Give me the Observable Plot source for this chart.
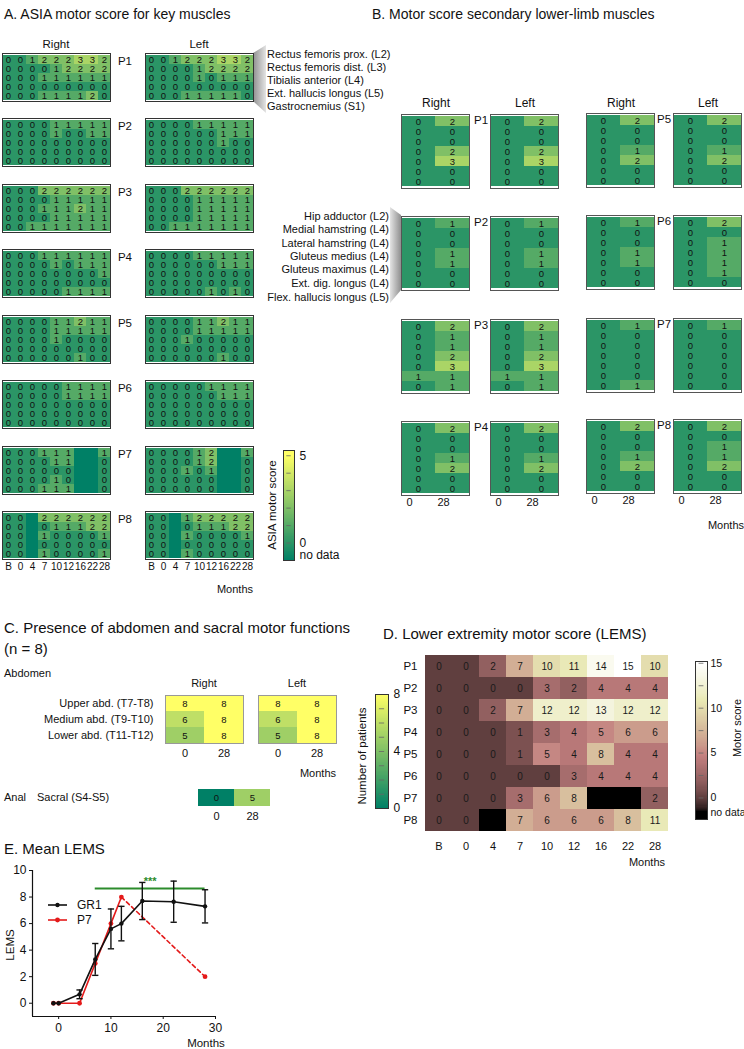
<!DOCTYPE html>
<html><head><meta charset="utf-8">
<script src="https://cdn.jsdelivr.net/npm/d3@7"></script>
<script src="https://cdn.jsdelivr.net/npm/@observablehq/plot@0.6"></script>
<style>
body{margin:0;background:#fff;}
#root{position:relative;width:744px;height:1049px;overflow:hidden;background:#fff;}
</style></head><body><div id="root"></div>
<script>
const _ = null;
// ---------- DATA ----------
const months = ["B","0","4","7","10","12","16","22","28"];
const patients = ["P1","P2","P3","P4","P5","P6","P7","P8"];
const keyMuscles = ["Rectus femoris prox. (L2)","Rectus femoris dist. (L3)","Tibialis anterior (L4)","Ext. hallucis longus (L5)","Gastrocnemius (S1)"];
const asiaRight = [
 [[0,0,1,2,2,2,3,3,2],[0,0,0,0,1,2,2,2,2],[0,0,0,1,1,1,1,1,1],[0,0,0,0,0,0,0,0,0],[0,0,0,1,1,1,1,2,0]],
 [[0,0,0,0,1,1,1,1,1],[0,0,0,0,1,0,0,1,1],[0,0,0,0,0,0,0,0,0],[0,0,0,0,0,0,0,0,0],[0,0,0,0,0,0,0,0,0]],
 [[0,0,0,2,2,2,2,2,2],[0,0,0,0,1,1,1,1,1],[0,0,0,1,1,1,2,1,1],[0,0,0,0,1,1,1,1,1],[0,0,1,1,1,1,1,1,1]],
 [[0,0,0,1,1,1,1,1,1],[0,0,0,0,1,0,1,1,1],[0,0,0,0,0,0,0,0,1],[0,0,0,0,0,0,0,0,0],[0,0,0,0,0,1,1,1,1]],
 [[0,0,0,0,1,1,2,1,1],[0,0,0,0,1,1,1,1,1],[0,0,0,0,1,0,0,0,0],[0,0,0,0,0,0,0,0,0],[0,0,0,0,0,0,1,0,0]],
 [[0,0,0,0,0,1,1,1,1],[0,0,0,0,0,1,1,1,1],[0,0,0,0,0,0,0,0,0],[0,0,0,0,0,0,0,0,0],[0,0,0,0,0,0,0,0,0]],
 [[0,0,0,1,1,1,_,_,1],[0,0,0,0,1,1,_,_,0],[0,0,0,0,0,0,_,_,0],[0,0,0,0,1,0,_,_,0],[0,0,0,1,1,1,_,_,0]],
 [[0,0,_,2,2,2,2,2,2],[0,0,_,0,1,1,1,2,2],[0,0,_,1,0,0,0,0,1],[0,0,_,0,0,0,0,0,0],[0,0,_,1,0,0,0,0,1]]
];
const asiaLeft = [
 [[0,0,1,2,2,2,3,3,2],[0,0,0,0,1,2,2,2,2],[0,0,0,0,1,0,1,1,1],[0,0,0,0,0,0,0,0,0],[0,0,0,1,1,1,1,1,0]],
 [[0,0,0,0,1,1,1,1,1],[0,0,0,0,0,0,1,1,1],[0,0,0,0,0,0,1,0,0],[0,0,0,0,0,0,0,0,0],[0,0,0,0,0,0,0,0,0]],
 [[0,0,0,2,2,2,2,2,2],[0,0,0,0,1,1,1,1,1],[0,0,0,0,1,1,1,1,1],[0,0,0,0,1,1,1,1,1],[0,0,1,1,1,1,1,1,1]],
 [[0,0,0,0,1,1,1,1,1],[0,0,0,0,0,0,1,1,1],[0,0,0,0,0,0,0,0,0],[0,0,0,0,0,0,0,0,0],[0,0,0,0,0,1,0,1,0]],
 [[0,0,0,0,1,1,2,1,1],[0,0,0,0,1,1,1,1,1],[0,0,0,1,0,0,0,0,0],[0,0,0,0,0,0,0,0,0],[0,0,0,0,0,0,1,0,0]],
 [[0,0,0,0,0,1,1,1,1],[0,0,0,0,0,0,1,1,1],[0,0,0,0,0,0,0,0,0],[0,0,0,0,0,0,0,0,0],[0,0,0,0,0,0,0,0,0]],
 [[0,0,0,0,1,2,_,_,1],[0,0,0,0,1,2,_,_,0],[0,0,0,1,0,1,_,_,0],[0,0,0,0,0,0,_,_,0],[0,0,0,0,0,0,_,_,0]],
 [[0,0,_,1,2,2,2,2,2],[0,0,_,0,1,1,1,2,2],[0,0,_,1,0,0,0,0,1],[0,0,_,0,0,0,0,0,0],[0,0,_,1,0,0,0,0,0]]
];
const secMonths = ["0","28"];
const secMuscles = ["Hip adductor (L2)","Medial hamstring (L4)","Lateral hamstring (L4)","Gluteus medius (L4)","Gluteus maximus (L4)","Ext. dig. longus (L4)","Flex. hallucis longus (L5)"];
const secRight = [
 [[0,2],[0,0],[0,0],[0,2],[0,3],[0,0],[0,0]],
 [[0,1],[0,0],[0,0],[0,1],[0,1],[0,0],[0,0]],
 [[0,2],[0,1],[0,1],[0,2],[0,3],[1,1],[0,1]],
 [[0,2],[0,0],[0,0],[0,1],[0,2],[0,0],[0,0]],
 [[0,2],[0,0],[0,0],[0,1],[0,2],[0,0],[0,0]],
 [[0,1],[0,0],[0,0],[0,1],[0,1],[0,0],[0,0]],
 [[0,1],[0,0],[0,0],[0,0],[0,0],[0,0],[0,1]],
 [[0,2],[0,0],[0,0],[0,1],[0,2],[0,0],[0,0]]
];
const secLeft = [
 [[0,2],[0,0],[0,0],[0,2],[0,3],[0,0],[0,0]],
 [[0,1],[0,0],[0,0],[0,1],[0,1],[0,0],[0,0]],
 [[0,2],[0,1],[0,1],[0,2],[0,3],[1,1],[0,1]],
 [[0,2],[0,0],[0,0],[0,1],[0,2],[0,0],[0,0]],
 [[0,2],[0,0],[0,0],[0,1],[0,2],[0,0],[0,0]],
 [[0,2],[0,0],[0,1],[0,1],[0,1],[0,1],[0,0]],
 [[0,1],[0,0],[0,0],[0,0],[0,0],[0,0],[0,0]],
 [[0,2],[0,0],[0,1],[0,1],[0,2],[0,0],[0,0]]
];
const abdLevels = ["Upper abd. (T7-T8)","Medium abd. (T9-T10)","Lower abd. (T11-T12)"];
const abdRight = [[8,8],[6,8],[5,8]];
const abdLeft = [[8,8],[6,8],[5,8]];
const sacralLevels = ["Sacral (S4-S5)"];
const sacral = [[0,5]];
const lems = [
 [0,0,2,7,10,11,14,15,10],
 [0,0,0,0,3,2,4,4,4],
 [0,0,2,7,12,12,13,12,12],
 [0,0,0,1,3,4,5,6,6],
 [0,0,0,1,5,4,8,4,4],
 [0,0,0,0,0,3,4,4,4],
 [0,0,0,3,6,8,_,_,2],
 [0,0,_,7,6,6,6,8,11]
];
const gr1Months = [-1,0,4,7,10,12,16,22,28];
const gr1Mean = [0,0,0.67,3.3,5.6,6.0,7.7,7.65,7.3];
const gr1Err = [0,0,0.33,1.2,1.5,1.3,1.4,1.55,1.25];
const p7Months = [-1,0,4,7,10,12,28];
const p7Lems = [0,0,0,3,6,8,2];
const sigFrom = 7, sigTo = 28, sigLevel = 8.65, sigX = 17.5, sigTextY = 9.15, sigLabel = "***";

// ---------- HELPERS ----------
const FONT = '"Liberation Sans", Arial, Helvetica, sans-serif';
const root = document.getElementById("root");
const ov = d3.select(root).append("svg").attr("width",744).attr("height",1049)
  .style("position","absolute").style("left","0px").style("top","0px").style("font-family",FONT);
function T(text, x, y, o = {}) {
  const {size = 11, anchor = "start", rotate = 0, fill = "#111"} = o;
  const t = ov.append("text").attr("x", x).attr("y", y).attr("text-anchor", anchor)
    .attr("dominant-baseline", "central").attr("font-size", size).attr("fill", fill).text(text);
  if (rotate) t.attr("transform", `rotate(${rotate},${x},${y})`);
}
function mount(p, L, Tp, ml, mt) {
  p.style.position = "absolute"; p.style.left = (L - ml) + "px"; p.style.top = (Tp - mt) + "px";
  root.appendChild(p);
}
const baseStyle = {background: "transparent", overflow: "visible", fontFamily: FONT, fontSize: "11px", color: "#111"};

function pinkRGB(t) {
  t = Math.max(0, Math.min(1, t));
  const hr = Math.min(1, t / 0.375), hg = Math.max(0, Math.min(1, (t - 0.375) / 0.375)), hb = Math.max(0, (t - 0.75) / 0.25);
  const f = h => Math.round(255 * Math.sqrt((2 * t + h) / 3));
  return d3.rgb(f(hr), f(hg), f(hb)).formatHex();
}
const summerA = {type: "linear", domain: [-1, 5], range: ["#008066", "#ffff66"], interpolate: "rgb"};
const summerC = {type: "linear", domain: [0, 8], range: ["#008066", "#ffff66"], interpolate: "rgb"};
const pinkD = {type: "linear", domain: [-1.5, 15], interpolate: pinkRGB};

function heat({L, T: Tp, W, H, xs, ys, rows, color, nodata, fs, textFill = "#111", ticks = false, tickDx = 0, tickDy = 10, tickFs = 10, frame = "#333", yAxis = false, yFs = 11, yDx = -8}) {
  const data = [];
  rows.forEach((r, i) => r.forEach((v, j) => data.push({x: xs[j], y: ys[i], v})));
  const ml = yAxis ? 130 : 1, mr = 1, mt = 1, mb = ticks ? 26 : 1;
  const marks = [
    Plot.cell(data, {x: "x", y: "y", fill: d => d.v ?? nodata, inset: 0, shapeRendering: "crispEdges"}),
    Plot.text(data.filter(d => d.v != null), {x: "x", y: "y", text: d => String(d.v), fontSize: fs, fill: textFill})
  ];
  if (frame) marks.push(Plot.frame({stroke: frame, strokeWidth: 1}));
  if (ticks) marks.push(Plot.text(xs, {x: d => d, text: d => d, frameAnchor: "bottom", dy: tickDy, dx: tickDx, fontSize: tickFs, fill: "#111"}));
  if (yAxis) marks.push(Plot.text(ys, {y: d => d, text: d => d, frameAnchor: "left", textAnchor: "end", dx: yDx, fontSize: yFs, fill: "#111"}));
  const p = Plot.plot({
    width: W + ml + mr, height: H + mt + mb, marginLeft: ml, marginRight: mr, marginTop: mt, marginBottom: mb,
    style: baseStyle,
    x: {type: "band", domain: xs, padding: 0, axis: null},
    y: {type: "band", domain: ys, padding: 0, axis: null},
    color, marks
  });
  mount(p, L, Tp, ml, mt);
}

function colorbar({L, T: Tp, W, H, domain, color, minor, labels, fs = 12, dx = 5}) {
  const n = 140, [a, b] = domain, step = (b - a) / n;
  const steps = d3.range(n).map(i => a + i * step);
  const ml = 1, mr = 50, mt = 1, mb = 1;
  const p = Plot.plot({
    width: W + ml + mr, height: H + mt + mb, marginLeft: ml, marginRight: mr, marginTop: mt, marginBottom: mb,
    style: baseStyle,
    x: {domain: [0, 1], axis: null}, y: {domain, axis: null}, color,
    marks: [
      Plot.rect(steps, {x1: 0, x2: 1, y1: d => d, y2: d => d + step * 1.05, fill: d => d + step / 2, shapeRendering: "crispEdges"}),
      Plot.ruleY(minor, {x1: 0.3, x2: 0.7, stroke: "#666", strokeWidth: 0.8}),
      Plot.frame({stroke: "#333"}),
      Plot.text(labels, {x: 1, y: "v", text: "t", dx, textAnchor: "start", fontSize: fs, fill: "#111"})
    ]
  });
  mount(p, L, Tp, ml, mt);
}

// ---------- decorations (callout wedges) ----------
const defs = ov.append("defs");
const g1 = defs.append("linearGradient").attr("id", "wA").attr("x1", "0").attr("x2", "1");
g1.append("stop").attr("offset", "0").attr("stop-color", "#8f8f8f");
g1.append("stop").attr("offset", "1").attr("stop-color", "#e4e4e4");
const g2 = defs.append("linearGradient").attr("id", "wB").attr("x1", "0").attr("x2", "1");
g2.append("stop").attr("offset", "0").attr("stop-color", "#e4e4e4");
g2.append("stop").attr("offset", "1").attr("stop-color", "#8f8f8f");
ov.append("polygon").attr("points", "253,53 266,45 266,113 253,101").attr("fill", "url(#wA)");
ov.append("polygon").attr("points", "390,207 401,215 401,290 390,303").attr("fill", "url(#wB)");

// ---------- PANEL A ----------
T("A. ASIA motor score for key muscles", 4, 14, {size: 14});
T("Right", 56, 44, {anchor: "middle", size: 11.5});
T("Left", 199, 44, {anchor: "middle", size: 11.5});
const topsA = [53, 118, 184, 249, 315, 380, 446, 511];
patients.forEach((p, i) => {
  const last = i === patients.length - 1;
  heat({L: 2, T: topsA[i], W: 108, H: 48, xs: months, ys: keyMuscles, rows: asiaRight[i], color: summerA, nodata: -1, fs: 9.5, ticks: last, tickDy: 10, tickFs: 10});
  heat({L: 145, T: topsA[i], W: 108, H: 48, xs: months, ys: keyMuscles, rows: asiaLeft[i], color: summerA, nodata: -1, fs: 9.5, ticks: last, tickDy: 10, tickFs: 10});
  T(p, 125, topsA[i] + 8, {anchor: "middle", size: 11.5});
});
[54, 67, 80, 93, 106].forEach((y, i) => T(keyMuscles[i], 267, y, {size: 11}));
T("Months", 235, 589, {anchor: "middle", size: 11});
colorbar({L: 283, T: 450, W: 11, H: 110, domain: [-1, 5.3], color: summerA, minor: [0, 1, 2, 3, 4, 5],
  labels: [{v: 5, t: "5"}, {v: 0, t: "0"}, {v: -0.72, t: "no data"}], fs: 12});
T("ASIA motor score", 272, 505, {anchor: "middle", rotate: -90, size: 11.5});

// ---------- PANEL B ----------
T("B.  Motor score secondary lower-limb muscles", 372, 14, {size: 14});
const colB = [{R: 401, Lf: 490, tops: [114, 216, 319, 421], pl: 474}, {R: 586, Lf: 673, tops: [113, 215, 318, 419], pl: 657}];
colB.forEach((c, ci) => {
  T("Right", c.R + 35, 103, {anchor: "middle", size: 12});
  T("Left", c.Lf + 35, 103, {anchor: "middle", size: 12});
  for (let k = 0; k < 4; k++) {
    const pi = ci * 4 + k, last = k === 3;
    heat({L: c.R, T: c.tops[k], W: 68, H: 74, xs: secMonths, ys: secMuscles, rows: secRight[pi], color: summerA, nodata: -1, fs: 9.5, frame: "#555", ticks: last, tickDx: -9, tickDy: 10, tickFs: 11});
    heat({L: c.Lf, T: c.tops[k], W: 68, H: 74, xs: secMonths, ys: secMuscles, rows: secLeft[pi], color: summerA, nodata: -1, fs: 9.5, frame: "#555", ticks: last, tickDx: -9, tickDy: 10, tickFs: 11});
    T(patients[pi], c.pl, c.tops[k] + 6, {size: 11.5});
  }
});
[216, 229, 243, 256, 269, 283, 297].forEach((y, i) => T(secMuscles[i], 389, y, {anchor: "end", size: 11}));
T("Months", 726, 525, {anchor: "middle", size: 11});

// ---------- PANEL C ----------
T("C. Presence of abdomen and sacral motor functions", 4, 627, {size: 15});
T("(n = 8)", 4, 648, {size: 15});
T("Abdomen", 4, 673, {size: 11});
T("Right", 204, 683, {anchor: "middle", size: 11});
T("Left", 297, 683, {anchor: "middle", size: 11});
heat({L: 165, T: 695, W: 78, H: 48, xs: secMonths, ys: abdLevels, rows: abdRight, color: summerC, nodata: 0, fs: 9.5, frame: "#999", ticks: true, tickDy: 13, tickFs: 11, yAxis: true, yDx: -12, yFs: 11});
heat({L: 258, T: 695, W: 78, H: 48, xs: secMonths, ys: abdLevels, rows: abdLeft, color: summerC, nodata: 0, fs: 9.5, frame: "#999", ticks: true, tickDy: 13, tickFs: 11});
T("Months", 318, 773, {anchor: "middle", size: 11});
T("Anal", 4, 797, {size: 11});
T(sacralLevels[0], 37, 797, {size: 11});
heat({L: 197, T: 789, W: 73, H: 17, xs: secMonths, ys: sacralLevels, rows: sacral, color: summerC, nodata: 0, fs: 9.5, frame: null, ticks: true, tickDy: 13, tickFs: 11});
colorbar({L: 375, T: 694, W: 13, H: 114, domain: [0, 8], color: summerC, minor: [1, 2, 3, 4, 5, 6, 7],
  labels: [{v: 8, t: "8"}, {v: 4, t: "4"}, {v: 0, t: "0"}], fs: 12});
T("Number of patients", 362, 756, {anchor: "middle", rotate: -90, size: 11.5});

// ---------- PANEL D ----------
T("D.  Lower extremity motor score  (LEMS)", 383, 633, {size: 15});
heat({L: 425, T: 653, W: 243, H: 180, xs: months, ys: patients, rows: lems, color: pinkD, nodata: -1.5, fs: 10, textFill: "#1a1a1a", frame: null, ticks: true, tickDy: 16, tickFs: 11, yAxis: true, yDx: -8, yFs: 11.5});
T("Months", 647, 862, {anchor: "middle", size: 11});
colorbar({L: 695, T: 661, W: 12, H: 158, domain: [-2.4, 15.2], color: pinkD, minor: [0, 2.5, 5, 7.5, 10, 12.5, 15],
  labels: [{v: 15, t: "15"}, {v: 10, t: "10"}, {v: 5, t: "5"}, {v: 0, t: "0"}, {v: -1.6, t: "no data"}], fs: 10.5, dx: 3});
T("Motor score", 737, 728, {anchor: "middle", rotate: -90, size: 11});

// ---------- PANEL E ----------
T("E. Mean LEMS", 4, 848, {size: 15});
const gr1 = gr1Months.map((m, i) => ({m, mean: gr1Mean[i], err: gr1Err[i]}));
const gr1E = gr1.filter(d => d.err > 0);
const p7 = p7Months.map((m, i) => ({m, v: p7Lems[i]}));
const p7Solid = p7.slice(0, 6), p7Dash = p7.slice(5);
{
  const ml = 30, mr = 12, mt = 4, mb = 24, W = 183, H = 146;
  const capW = 0.6;
  const p = Plot.plot({
    width: W + ml + mr, height: H + mt + mb, marginLeft: ml, marginRight: mr, marginTop: mt, marginBottom: mb,
    style: {...baseStyle, fontSize: "12px"},
    x: {domain: [-5, 30], ticks: [0, 10, 20, 30], tickSize: 3, tickPadding: 4, label: null},
    y: {domain: [-1, 10], ticks: [0, 2, 4, 6, 8, 10], tickSize: 3, tickPadding: 3, label: null},
    marks: [
      Plot.ruleX([-5], {stroke: "#111", strokeWidth: 1.2}),
      Plot.ruleY([-1], {stroke: "#111", strokeWidth: 1.2}),
      Plot.ruleY([sigLevel], {x1: sigFrom, x2: sigTo, stroke: "#2c8c2c", strokeWidth: 2}),
      Plot.text([sigLabel], {x: sigX, y: sigTextY, text: d => d, fill: "#2c8c2c", fontSize: 11, fontWeight: "bold"}),
      Plot.line(p7Solid, {x: "m", y: "v", stroke: "#e41a1a", strokeWidth: 1.6}),
      Plot.line(p7Dash, {x: "m", y: "v", stroke: "#e41a1a", strokeWidth: 1.6, strokeDasharray: "4,3"}),
      Plot.dot(p7, {x: "m", y: "v", r: 2.4, fill: "#e41a1a"}),
      Plot.ruleX(gr1E, {x: "m", y1: d => d.mean - d.err, y2: d => d.mean + d.err, stroke: "#111", strokeWidth: 1.4}),
      Plot.link(gr1E, {x1: d => d.m - capW, x2: d => d.m + capW, y1: d => d.mean + d.err, y2: d => d.mean + d.err, stroke: "#111", strokeWidth: 1.4}),
      Plot.link(gr1E, {x1: d => d.m - capW, x2: d => d.m + capW, y1: d => d.mean - d.err, y2: d => d.mean - d.err, stroke: "#111", strokeWidth: 1.4}),
      Plot.line(gr1, {x: "m", y: "mean", stroke: "#111", strokeWidth: 1.6}),
      Plot.dot(gr1, {x: "m", y: "mean", r: 2.2, fill: "#111"})
    ]
  });
  mount(p, 32, 870, ml, mt);
}
// legend
ov.append("line").attr("x1", 48).attr("x2", 67).attr("y1", 905).attr("y2", 905).attr("stroke", "#111").attr("stroke-width", 1.6);
ov.append("circle").attr("cx", 57.5).attr("cy", 905).attr("r", 2.2).attr("fill", "#111");
T("GR1", 77, 905, {size: 12});
ov.append("line").attr("x1", 48).attr("x2", 67).attr("y1", 920).attr("y2", 920).attr("stroke", "#e41a1a").attr("stroke-width", 1.6);
ov.append("circle").attr("cx", 57.5).attr("cy", 920).attr("r", 2.4).attr("fill", "#e41a1a");
T("P7", 77, 920, {size: 12});
T("LEMS", 10, 945, {anchor: "middle", rotate: -90, size: 11.5});
T("Months", 206, 1043, {anchor: "middle", size: 11.5});
</script></body></html>
